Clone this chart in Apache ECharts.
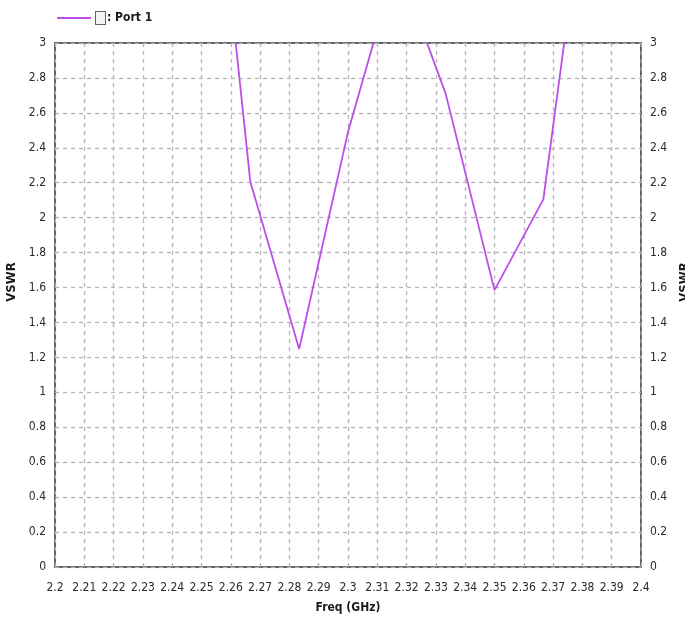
<!DOCTYPE html>
<html>
<head>
<meta charset="utf-8">
<script src="https://cdn.jsdelivr.net/npm/echarts@6/dist/echarts.min.js"></script>
<style>html,body{margin:0;padding:0;background:#fff;}#c{width:685px;height:619px;}</style>
</head>
<body>
<div id="c"></div>
<script>
// Frequency samples (GHz) and VSWR values
const freqs = [2.25, 2.26667, 2.28333, 2.3, 2.31667, 2.33333, 2.35, 2.36667, 2.38333];
const vswr  = [4.86, 2.205, 1.248, 2.49, 3.47, 2.71, 1.585, 2.105, 4.2];
const seriesName = ': Port 1';
const xMin = 2.2, xMax = 2.4, xStep = 0.01;
const yMin = 0, yMax = 3, yStep = 0.2;

const font = '"DejaVu Sans Condensed", "Liberation Sans Narrow", "Liberation Sans", Arial, sans-serif';
const chart = echarts.init(document.getElementById('c'), null, {renderer: 'canvas'});
const fmt = v => String(+(+v).toFixed(2));
const yAxisCommon = {
  type: 'value', min: yMin, max: yMax, interval: yStep,
  name: 'VSWR', nameLocation: 'middle', nameRotate: 90,
  nameTextStyle: {fontFamily: font, fontWeight: 'bold', fontSize: 13, color: '#1a1a1a', padding: [0, 0, 0, 46]},
  axisLine: {show: false}, axisTick: {show: false},
  axisLabel: {fontFamily: font, fontSize: 12, color: '#2a2a2a', margin: 9, formatter: fmt}
};
chart.setOption({
  animation: false,
  backgroundColor: '#fff',
  grid: {left: 55, right: 44, top: 43, bottom: 52, outerBoundsMode: 'none', containLabel: false,
         show: true, borderColor: '#666', borderWidth: 2, backgroundColor: 'transparent'},
  legend: {
    left: 52, top: 6, itemWidth: 34, itemHeight: 2, itemGap: 0,
    icon: 'rect',
    data: [seriesName],
    formatter: n => '{box|}{t|' + n + '}',
    textStyle: {
      rich: {
        box: {width: 9, height: 12, borderColor: '#666', borderWidth: 1, backgroundColor: '#f2f2f2'},
        t: {fontFamily: font, fontWeight: 'bold', fontSize: 12, color: '#1a1a1a', padding: [0, 0, 0, 2]}
      }
    }
  },
  xAxis: {
    type: 'value', min: xMin, max: xMax, interval: xStep,
    name: 'Freq (GHz)', nameLocation: 'middle', nameGap: 35,
    nameTextStyle: {fontFamily: font, fontWeight: 'bold', fontSize: 12, color: '#1a1a1a'},
    axisLine: {show: false}, axisTick: {show: false},
    axisLabel: {fontFamily: font, fontSize: 12, color: '#2a2a2a', margin: 15, formatter: fmt},
    splitLine: {show: true, lineStyle: {color: '#b5b5b5', type: [4, 4], width: 1.3}}
  },
  yAxis: [
    Object.assign({}, yAxisCommon, {position: 'left', nameGap: 35,
      splitLine: {show: true, lineStyle: {color: '#b5b5b5', type: [4, 4], width: 1.3}}}),
    Object.assign({}, yAxisCommon, {position: 'right', nameGap: 22, splitLine: {show: false}})
  ],
  series: [{
    name: seriesName, type: 'line', xAxisIndex: 0, yAxisIndex: 0,
    data: freqs.map((f, i) => [f, vswr[i]]),
    showSymbol: false, clip: true,
    lineStyle: {color: '#bb4fe8', width: 1.8},
    itemStyle: {color: '#bb4fe8'}
  }]
});
</script>
</body>
</html>
